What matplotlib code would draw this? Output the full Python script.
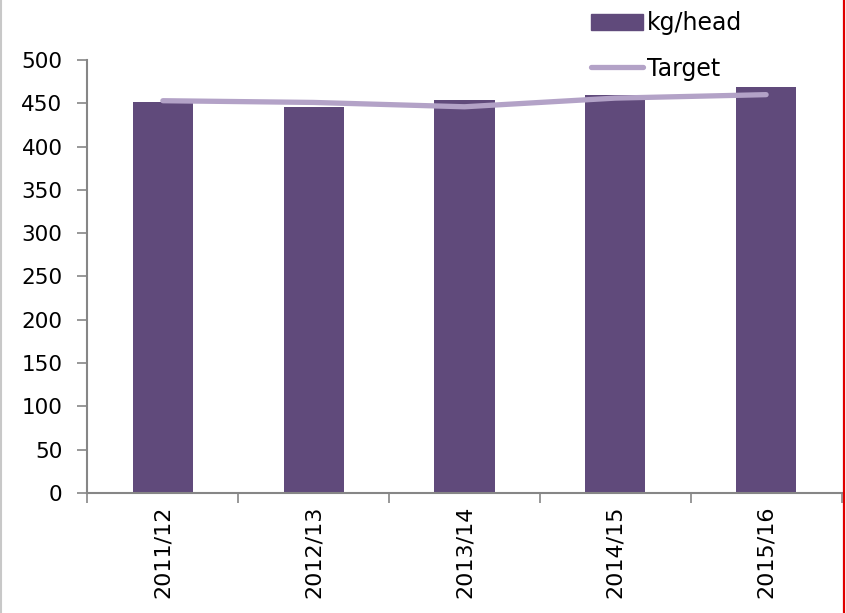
import matplotlib
matplotlib.use("Agg")
import matplotlib.pyplot as plt
from matplotlib.lines import Line2D
import numpy as np

# Annual values
seasons = ["2011/12", "2012/13", "2013/14", "2014/15", "2015/16"]
kg_per_head = [451, 446, 454, 460, 469]
target = [453, 451, 446, 456, 460]
y_ticks = [0, 50, 100, 150, 200, 250, 300, 350, 400, 450, 500]

bar_color = "#604a7b"
line_color = "#b3a2c7"
axis_color = "#868686"

plt.rcParams["font.family"] = ["DejaVu Sans"]

fig = plt.figure(figsize=(8.46, 6.13), dpi=100)
ax = fig.add_axes([0.1034, 0.1958, 0.8913, 0.7063])

x = np.arange(len(seasons))
ax.bar(x, kg_per_head, width=0.4, color=bar_color, zorder=2)
ax.plot(x, target, color=line_color, lw=3.8, solid_capstyle="round", zorder=3)

ax.set_xlim(-0.5, len(seasons) - 0.5)
ax.set_ylim(0, 500)
ax.set_yticks(y_ticks)
ax.set_yticklabels([str(v) for v in y_ticks], fontsize=15.5)

ax.set_xticks(x)
ax.set_xticklabels(seasons, rotation=90, fontsize=16)
ax.set_xticks(np.arange(-0.5, len(seasons)), minor=True)
ax.tick_params(axis="x", which="major", length=0, pad=9)
ax.tick_params(axis="x", which="minor", length=7, width=1.2, color=axis_color)
ax.tick_params(axis="y", length=7, width=1.2, color=axis_color, pad=11)

for side in ("top", "right"):
    ax.spines[side].set_visible(False)
for side in ("left", "bottom"):
    ax.spines[side].set_color(axis_color)
    ax.spines[side].set_linewidth(1.5)

handles = [
    plt.Rectangle((0, 0), 1, 1, color=bar_color),
    Line2D([0], [0], color=line_color, lw=3.8, solid_capstyle="round"),
]
fig.legend(handles, ["kg/head", "Target"], loc="upper left",
           bbox_to_anchor=(0.699, 0.982), frameon=False, fontsize=17,
           handlelength=2.2, handleheight=0.7, handletextpad=0.15,
           labelspacing=0.92, borderaxespad=0, borderpad=0)

# Outer frame pieces
fig.add_artist(Line2D([0.0008, 0.0008], [0, 1], transform=fig.transFigure,
                      color="#c8c8c8", lw=1.5))
fig.add_artist(Line2D([843.5 / 846, 843.5 / 846], [0, 1], transform=fig.transFigure,
                      color="#e00000", lw=1.6))

fig.savefig("out.png", dpi=100)
